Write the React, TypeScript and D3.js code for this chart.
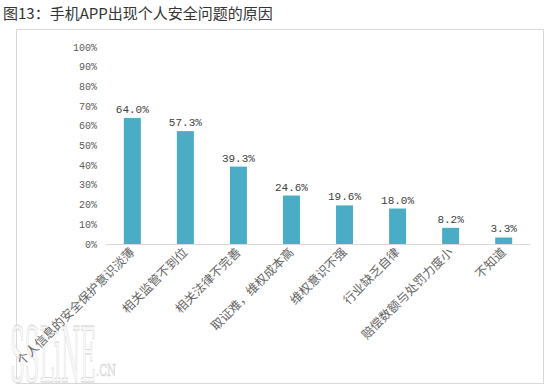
import React from "react";
import * as d3 from "d3";

const categories = [
  "个人信息的安全保护意识淡薄",
  "相关监管不到位",
  "相关法律不完善",
  "取证难，维权成本高",
  "维权意识不强",
  "行业缺乏自律",
  "赔偿数额与处罚力度小",
  "不知道",
];
const values = [64.0, 57.3, 39.3, 24.6, 19.6, 18.0, 8.2, 3.3];
const yTicks = [0, 10, 20, 30, 40, 50, 60, 70, 80, 90, 100];
const title = "图13：手机APP出现个人安全问题的原因";

export default function App() {
  const W = 550;
  const H = 387;
  const x = d3
    .scaleBand<string>()
    .domain(categories)
    .range([105.8, 530.2])
    .paddingInner(0.68)
    .paddingOuter(0.34);
  const y = d3.scaleLinear().domain([0, 100]).range([244, 47]);
  const barColor = "#4bacc6";
  const mono = "'Liberation Mono', 'DejaVu Sans Mono', monospace";
  const cjk = "'Noto Sans CJK SC', 'Noto Sans', sans-serif";

  return (
    <svg
      width={W}
      height={H}
      style={{ position: "absolute", left: 0, top: 0, background: "#fff" }}
    >
      <rect x={0} y={0} width={W} height={H} fill="#fff" />
      <text x={3} y={19} fontSize={15} fill="#333" fontFamily={cjk}>
        {title}
      </text>
      <rect
        x={16.5}
        y={29.5}
        width={527}
        height={354}
        fill="#fff"
        stroke="#d9d9d9"
        strokeWidth={1}
      />
      {/* watermark */}
      <g>
        <text
          x={10}
          y={382}
          fontSize={76}
          fontFamily="'DejaVu Serif', serif"
          textLength={86}
          lengthAdjust="spacingAndGlyphs"
          fill="#f8f8f8"
          stroke="#d4d4d4"
          strokeWidth={0.8}
        >
          SSLiNE
        </text>
        <text
          x={96}
          y={376}
          fontSize={16}
          fontFamily="'DejaVu Serif', serif"
          textLength={20}
          lengthAdjust="spacingAndGlyphs"
          fill="#f8f8f8"
          stroke="#cfcfcf"
          strokeWidth={0.6}
        >
          .CN
        </text>
      </g>
      {yTicks.map((t) => (
        <text
          key={t}
          x={97}
          y={y(t)}
          dy="0.35em"
          textAnchor="end"
          fontSize={10}
          fontFamily={mono}
          fill="#595959"
        >
          {t + "%"}
        </text>
      ))}
      {categories.map((c, i) => {
        const bx = x(c) as number;
        const bw = x.bandwidth();
        return (
          <g key={c}>
            <rect
              x={bx}
              y={y(values[i])}
              width={bw}
              height={y(0) - y(values[i])}
              fill={barColor}
            />
            <text
              x={bx + bw / 2}
              y={y(values[i]) - 5}
              textAnchor="middle"
              fontSize={11}
              fontFamily={mono}
              fill="#404040"
            >
              {values[i].toFixed(1) + "%"}
            </text>
            <text
              transform={`translate(${bx + bw / 2 + 3},${253}) rotate(-45)`}
              textAnchor="end"
              fontSize={12.3}
              fontFamily={cjk}
              fill="#666"
            >
              {c}
            </text>
          </g>
        );
      })}
      <line
        x1={105.8}
        x2={530.2}
        y1={y(0) + 0.5}
        y2={y(0) + 0.5}
        stroke="#d9d9d9"
        strokeWidth={1}
      />
    </svg>
  );
}
